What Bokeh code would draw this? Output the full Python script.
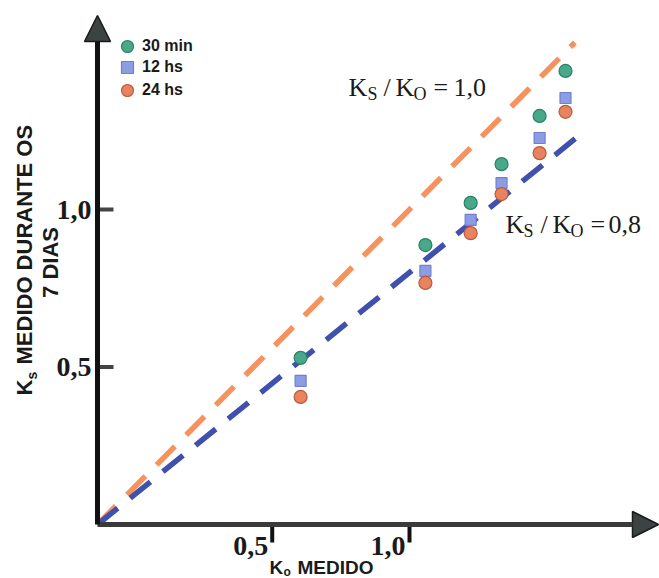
import math
from bokeh.plotting import figure
from bokeh.models import (ColumnDataSource, Range1d, Arrow, NormalHead,
                          Label, Legend, LegendItem)
from bokeh.embed import file_html
from bokeh.resources import INLINE

# ---------------- data ----------------
ko_medido = [0.651, 1.051, 1.196, 1.295, 1.417, 1.500]
ks_30min = [0.529, 0.887, 1.021, 1.144, 1.297, 1.440]
ks_12hs = [0.456, 0.805, 0.967, 1.084, 1.227, 1.354]
ks_24hs = [0.405, 0.767, 0.925, 1.049, 1.179, 1.310]
series_names = ["30 min", "12 hs", "24 hs"]

ratio_values = [1.0, 0.8]          # Ks / Ko reference lines
ratio_x_max = [1.53, 1.555]
ratio_texts = ["1,0", "0,8"]

y_tick_values = [0.5, 1.0]
y_tick_labels = ["0,5", "1,0"]
x_tick_values = [0.56, 1.0]
x_tick_labels = ["0,5", "1,0"]

# ---------------- layout helpers (page pixel -> data) ----------------
W, H = 659, 578
SX, SY = 312.0, 315.0
X0_PX, Y0_PX = 97, 524     # where the axes cross, in page pixels


def dx(px):
    return (px - X0_PX) / SX


def dy(py):
    return (Y0_PX - py) / SY


p = figure(width=W, height=H, output_backend="svg", toolbar_location=None, title=None,
           x_range=Range1d(dx(0), dx(W)), y_range=Range1d(dy(H), dy(0)),
           x_axis_location=None, y_axis_location=None,
           min_border=0, min_border_left=0, min_border_right=0,
           min_border_top=0, min_border_bottom=0)
p.background_fill_color = "white"
p.border_fill_color = "white"
p.outline_line_color = None
p.grid.visible = False

# ---------------- axes: arrows, ticks, tick labels ----------------
p.add_layout(Arrow(end=NormalHead(size=26, fill_color="#3d4242", line_color="#1a1a1a", line_width=1.5),
                   x_start=0, y_start=0, x_end=dx(658), y_end=0,
                   line_color="#3a3a3a", line_width=5))
p.add_layout(Arrow(end=NormalHead(size=26, fill_color="#3d4242", line_color="#1a1a1a", line_width=1.5),
                   x_start=0, y_start=0, x_end=0, y_end=dy(15),
                   line_color="#111111", line_width=5))

ytick_len = 16 / SX
p.segment(x0=[0] * len(y_tick_values), y0=y_tick_values,
          x1=[ytick_len] * len(y_tick_values), y1=y_tick_values,
          line_color="#444444", line_width=4)
xtick_len = 18 / SY
p.segment(x0=x_tick_values, y0=[0] * len(x_tick_values),
          x1=x_tick_values, y1=[-xtick_len] * len(x_tick_values),
          line_color="#111111", line_width=4)

tick_style = dict(text_font="Liberation Serif", text_font_style="bold",
                  text_font_size="28px", text_color="#1a1a1a", text_baseline="middle")
for v, t in zip(y_tick_values, y_tick_labels):
    p.add_layout(Label(x=dx(91), y=v, text=t, text_align="right", **tick_style))
for v, t in zip(x_tick_values, x_tick_labels):
    p.add_layout(Label(x=v, y=dy(545.5), text=t, x_offset=-4, text_align="right", **tick_style))

# ---------------- reference lines Ks/Ko ----------------
ratio_colors = ["#f5925e", "#3f50ad"]
for r, xm, c in zip(ratio_values, ratio_x_max, ratio_colors):
    p.line([0, xm], [0, r * xm], line_color=c, line_width=5.5, line_dash="26 16")

# ---------------- data points ----------------
src = ColumnDataSource(dict(x=ko_medido, a=ks_30min, b=ks_12hs, c=ks_24hs))
r1 = p.scatter("x", "a", source=src, marker="circle", size=13,
               fill_color="#47a98a", line_color="#2e7f66", line_width=1.2)
r2 = p.scatter("x", "b", source=src, marker="square", size=11,
               fill_color="#8d9de3", line_color="#6f80d2", line_width=1.2)
r3 = p.scatter("x", "c", source=src, marker="circle", size=13,
               fill_color="#e8825f", line_color="#b85c3e", line_width=1.2)

# one small legend per entry so the symbols keep their size (rows 21-23 px apart)
legend_row_bottoms = [61, 82, 105]   # page pixels
for name, rend, bottom in zip(series_names, [r1, r2, r3], legend_row_bottoms):
    p.add_layout(Legend(items=[LegendItem(label=name, renderers=[rend])],
                        location=(112, H - bottom), margin=0, padding=0, spacing=0,
                        glyph_width=30, glyph_height=30, label_height=30, label_standoff=0,
                        label_text_font="Liberation Sans", label_text_font_style="bold",
                        label_text_font_size="16px", label_text_color="#1a1a1a",
                        label_text_baseline="middle",
                        border_line_color=None, background_fill_alpha=0))

# ---------------- "Ks / Ko = ..." annotations ----------------
def ratio_label(xs, mid, sub_mid, tail):
    texts = ["K", "S", "/", "K", "O", "=", tail]
    sizes = ["26px", "18px", "26px", "26px", "18px", "26px", "26px"]
    mids = [mid, sub_mid, mid, mid, sub_mid, mid, mid]
    for x, t, s, m in zip(xs, texts, sizes, mids):
        p.add_layout(Label(x=dx(x), y=dy(m), text=t, text_align="left",
                           text_baseline="middle", text_font="Liberation Serif",
                           text_font_size=s, text_color="#1a1a1a"))


ratio_label([348, 367, 383, 395, 413, 433, 453], 87, 93, ratio_texts[0])
ratio_label([505, 523, 540, 552, 570, 590, 608], 224, 230, ratio_texts[1])

# ---------------- axis titles ----------------
title_style = dict(text_font="Liberation Sans", text_font_style="bold",
                   text_color="#1a1a1a", text_baseline="middle")
p.add_layout(Label(x=dx(24), y=dy(395), text="K", angle=math.pi / 2, text_align="left",
                   text_font_size="22px", **title_style))
p.add_layout(Label(x=dx(31), y=dy(379), text="s", angle=math.pi / 2, text_align="left",
                   text_font_size="14px", **title_style))
p.add_layout(Label(x=dx(24), y=dy(364), text="MEDIDO DURANTE OS", angle=math.pi / 2,
                   text_align="left", text_font_size="22px", **title_style))
p.add_layout(Label(x=dx(50), y=dy(262), text="7 DIAS", angle=math.pi / 2,
                   text_align="center", text_font_size="22px", **title_style))

p.add_layout(Label(x=dx(269), y=dy(567), text="K", text_align="left",
                   text_font_size="19px", **title_style))
p.add_layout(Label(x=dx(283), y=dy(571), text="o", text_align="left",
                   text_font_size="12px", **title_style))
p.add_layout(Label(x=dx(297), y=dy(567), text="MEDIDO", text_align="left",
                   text_font_size="19px", **title_style))

open("out.html", "w").write(file_html(p, INLINE))
